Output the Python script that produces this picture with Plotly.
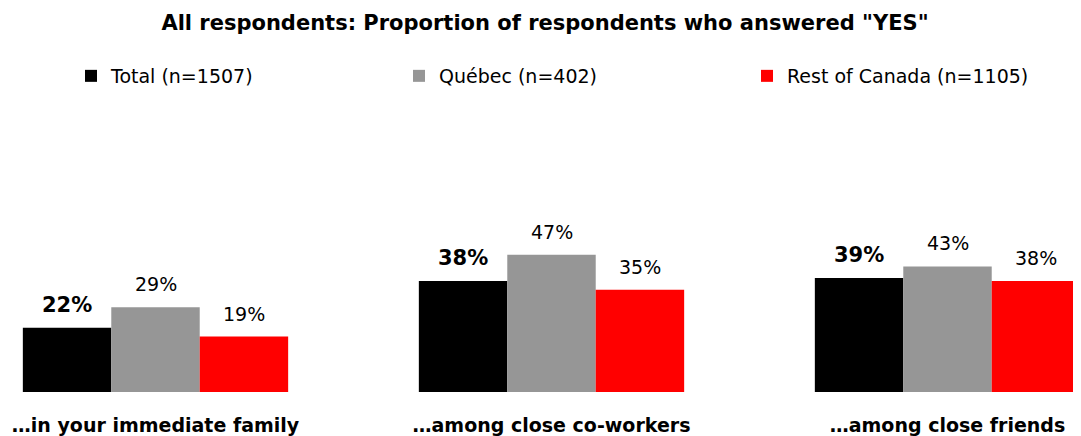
import plotly.graph_objects as go


# =====================================
# DATA
# =====================================

categories = [
    "…in your immediate family",
    "…among close co-workers",
    "…among close friends"
]

series_names = [
    "Total (n=1507)",
    "Québec (n=402)",
    "Rest of Canada (n=1105)"
]

total_values = [22, 38, 39]
quebec_values = [29, 47, 43]
roc_values = [19, 35, 38]

colors = ["#000000", "#969696", "#ff0000"]


# =====================================
# FIGURE
# =====================================

FONT = "DejaVu Sans"
# page body has an 8px margin, so the figure is drawn 8px in from the corner
PAD = 8
W, H = 1081 - PAD, 436 - PAD
BARGAP = 0.33
CAT_PX = 396          # pixel distance between category centres
FIRST_PX = 155.5 - PAD

fig = go.Figure()

all_values = [total_values, quebec_values, roc_values]
legend_ids = ["legend", "legend2", "legend3"]
x_idx = list(range(len(categories)))

for name, vals, col, lg in zip(series_names, all_values, colors, legend_ids):
    fig.add_trace(
        go.Bar(
            x=x_idx,
            y=vals,
            name=name,
            marker=dict(color=col, line=dict(width=0)),
            legend=lg,
            showlegend=True,
            hoverinfo="skip"
        )
    )

# value labels above each bar
bar_w = (1 - BARGAP) / 3
for s, vals in enumerate(all_values):
    offset = (s - 1) * bar_w
    for i, v in enumerate(vals):
        if s == 0:
            txt, size = f"<b>{v}%</b>", 21
        else:
            txt, size = f"{v}%", 19
        fig.add_annotation(
            x=i + offset,
            y=v,
            xref="x",
            yref="y",
            text=txt,
            showarrow=False,
            yanchor="middle",
            yshift=23,
            font=dict(family=FONT, size=size, color="#000000")
        )

# legend positions (one legend per series)
legend_x = [71, 399, 747]
legend_common = dict(
    orientation="h",
    xref="container",
    yref="container",
    yanchor="middle",
    y=1 - (76 - PAD) / H,
    xanchor="left",
    bgcolor="rgba(0,0,0,0)",
    font=dict(family=FONT, size=19, color="#000000"),
    itemwidth=30
)

fig.update_layout(
    width=W,
    height=H,
    showlegend=True,
    margin=dict(l=0, r=0, t=100 - PAD, b=44),
    paper_bgcolor="white",
    plot_bgcolor="white",
    barmode="group",
    bargap=BARGAP,
    bargroupgap=0,
    title=dict(
        text="<b>All respondents: Proportion of respondents who answered \"YES\"</b>",
        x=(545 - PAD) / W,
        xanchor="center",
        y=1 - (23 - PAD) / H,
        yanchor="middle",
        font=dict(family=FONT, size=21, color="#000000")
    ),
    legend=dict(x=(legend_x[0] - PAD) / W, **legend_common),
    legend2=dict(x=(legend_x[1] - PAD) / W, **legend_common),
    legend3=dict(x=(legend_x[2] - PAD) / W, **legend_common),
    xaxis=dict(
        range=[-FIRST_PX / CAT_PX, (W - FIRST_PX) / CAT_PX],
        tickvals=x_idx,
        ticktext=[f"<b>{c}</b>" for c in categories],
        tickfont=dict(family=FONT, size=19, color="#000000"),
        showgrid=False,
        zeroline=False,
        showline=False,
        ticks="",
        ticklabelstandoff=20
    ),
    yaxis=dict(
        range=[0, 100],
        visible=False,
        showgrid=False,
        zeroline=False
    ),
    font=dict(family=FONT, color="#000000")
)

fig.write_html("out.html")
